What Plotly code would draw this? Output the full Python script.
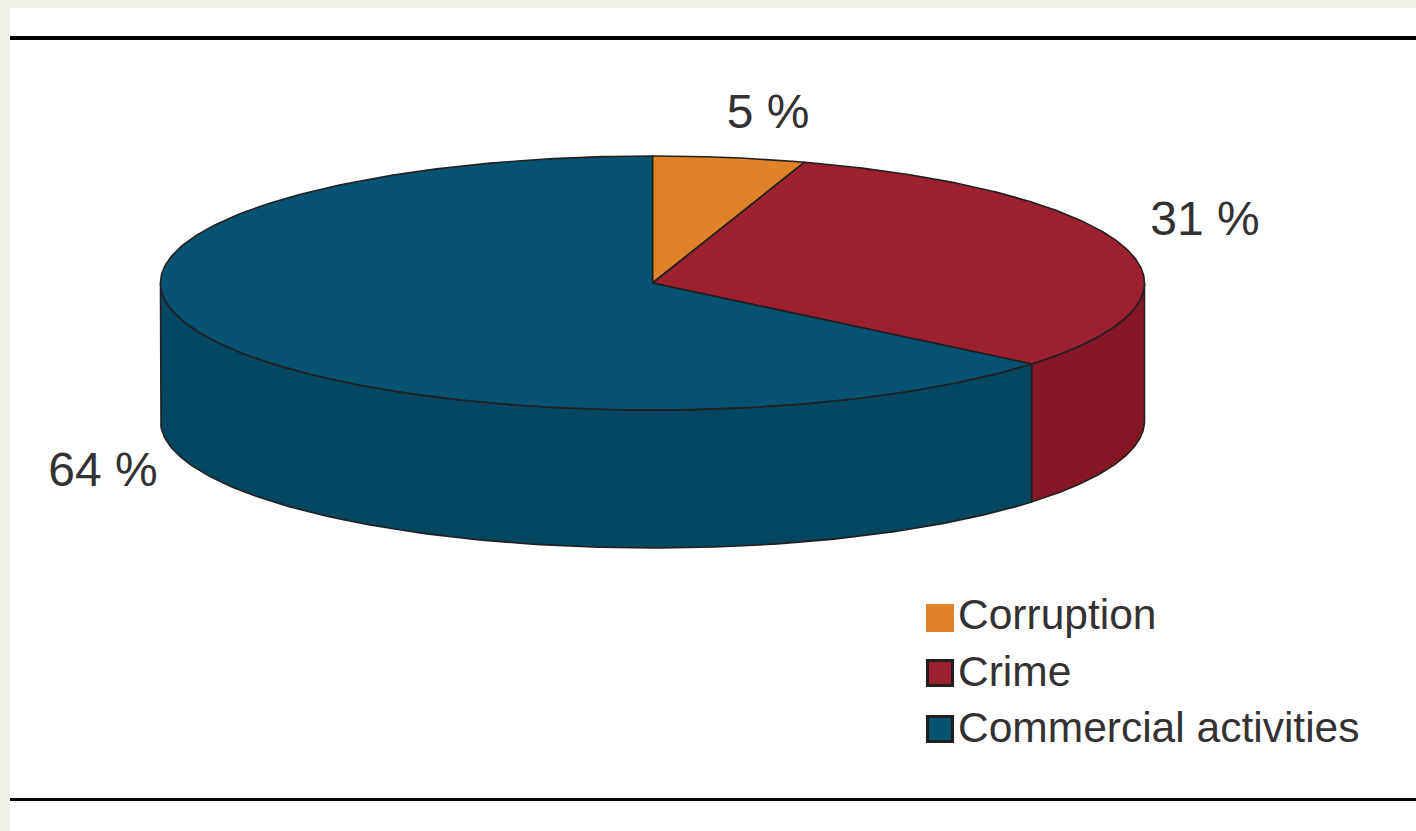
import numpy as np
import plotly.graph_objects as go

categories = ["Corruption", "Crime", "Commercial activities"]
shares = [5, 31, 64]
labels = ["5 %", "31 %", "64 %"]
top_colors = ["#DF8228", "#9C202E", "#055272"]
side_colors = ["#C06F20", "#851623", "#024660"]
legend_borders = ["#DF8228", "#231F20", "#231F20"]
label_x = [768, 1205, 103]
label_y = [116, 223, 474]
legend_x = [940, 940, 940]
legend_y = [618, 673, 729]
legend_text_y = [618, 675, 731]

CX, CY, RX, RY, DEPTH = 652.5, 283, 492, 127, 138
EDGE = "#231F20"
TEXT = "#333132"
FONT = "Liberation Sans, Arial, sans-serif"


def ell(t, dy=0):
    return CX + RX * np.sin(t), CY + dy - RY * np.cos(t)


fractions = np.cumsum([0] + shares) / sum(shares) * 2 * np.pi
fig = go.Figure()

for i in range(len(shares)):
    a = max(fractions[i], np.pi / 2)
    b = min(fractions[i + 1], 3 * np.pi / 2)
    if b <= a:
        continue
    t = np.linspace(a, b, 160)
    x1, y1 = ell(t)
    x2, y2 = ell(t[::-1], DEPTH)
    fig.add_trace(go.Scatter(
        x=np.r_[x1, x2, x1[0]], y=np.r_[y1, y2, y1[0]],
        mode="lines", fill="toself", fillcolor=side_colors[i],
        line=dict(color=EDGE, width=1.6), hoverinfo="skip", showlegend=False))

for i in range(len(shares)):
    t = np.linspace(fractions[i], fractions[i + 1], 240)
    x, y = ell(t)
    fig.add_trace(go.Scatter(
        x=np.r_[CX, x, CX], y=np.r_[CY, y, CY],
        mode="lines", fill="toself", fillcolor=top_colors[i],
        line=dict(color=EDGE, width=1.6), name=categories[i], showlegend=False))

fig.add_trace(go.Scatter(
    x=label_x, y=label_y, mode="text", text=labels, textposition="middle center",
    textfont=dict(size=48, color=TEXT, family=FONT), hoverinfo="skip", showlegend=False))

fig.add_trace(go.Scatter(
    x=legend_x, y=legend_y, mode="markers",
    marker=dict(symbol="square", size=25, color=top_colors,
                line=dict(color=legend_borders, width=3)),
    hoverinfo="skip", showlegend=False))
fig.add_trace(go.Scatter(
    x=[958] * 3, y=legend_text_y, mode="text", text=categories, textposition="middle right",
    textfont=dict(size=42.5, color=TEXT, family=FONT), hoverinfo="skip", showlegend=False))

fig.update_layout(
    width=1416, height=831, margin=dict(l=0, r=0, t=0, b=0),
    paper_bgcolor="#EFEFE7", plot_bgcolor="rgba(0,0,0,0)",
    xaxis=dict(range=[0, 1416], visible=False, fixedrange=True),
    yaxis=dict(range=[831, 0], visible=False, fixedrange=True),
    shapes=[
        dict(type="rect", x0=10, x1=1416, y0=8, y1=831, fillcolor="white", line_width=0, layer="below"),
        dict(type="line", x0=10, x1=1416, y0=38, y1=38, line=dict(color="black", width=4), layer="below"),
        dict(type="line", x0=10, x1=1416, y0=799.5, y1=799.5, line=dict(color="black", width=3), layer="below"),
    ],
)
fig.write_html("out.html", config={"displayModeBar": False},
               post_script="document.body.style.margin='0';document.body.style.overflow='hidden';")
